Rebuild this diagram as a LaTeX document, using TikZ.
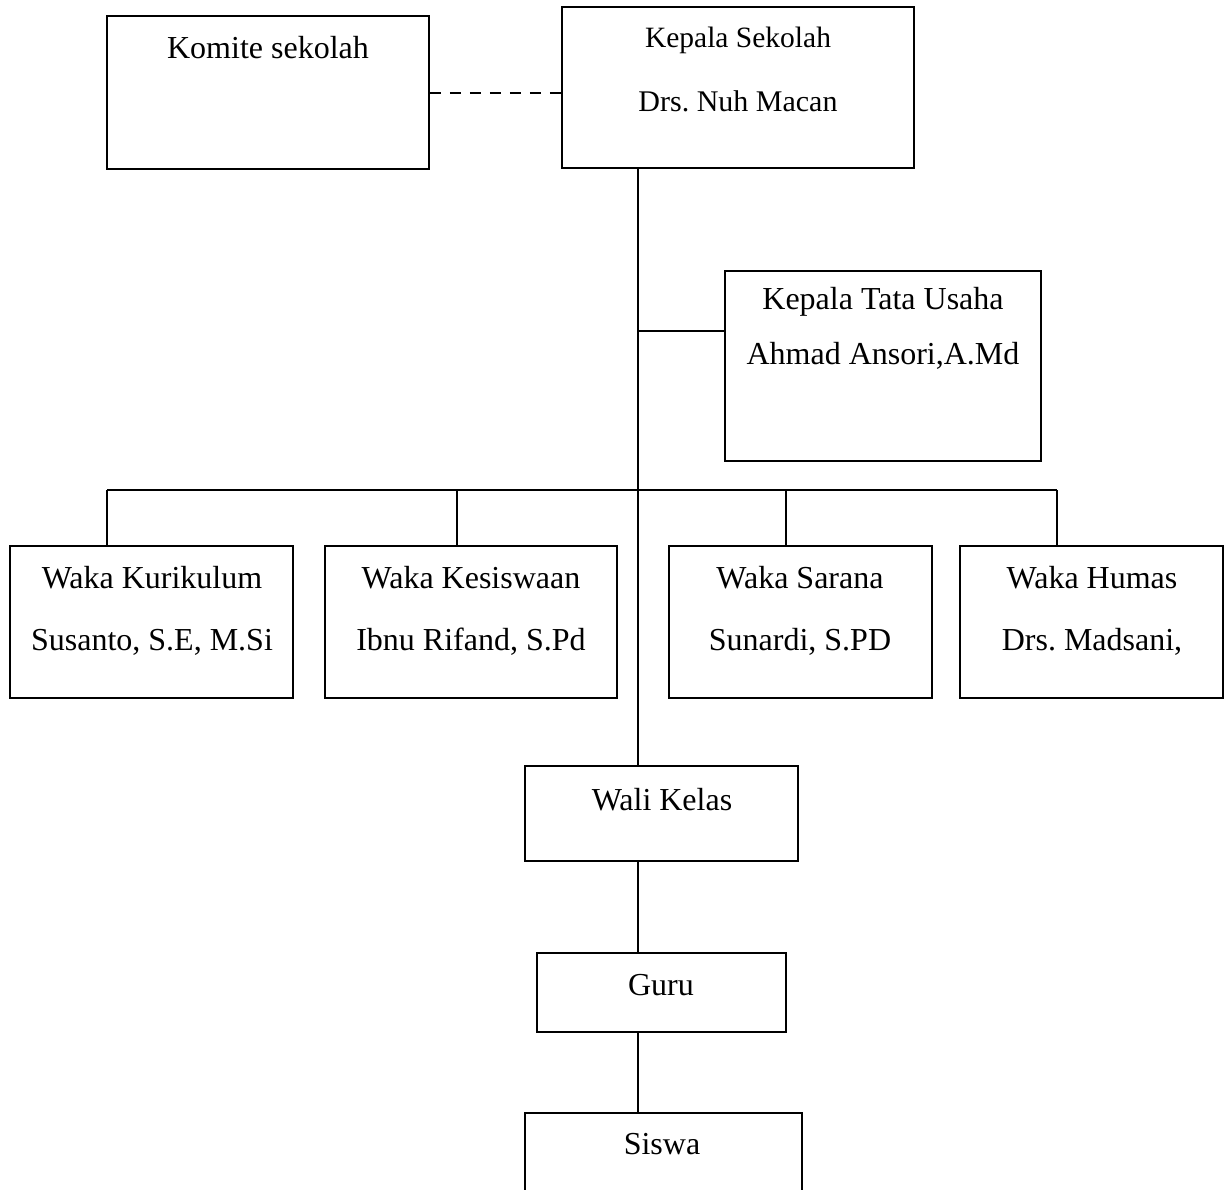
\documentclass[tikz,border=0pt]{standalone}
\usepackage{fontspec}
\setmainfont{Liberation Serif}
\frenchspacing
\begin{document}
\begin{tikzpicture}[x=1pt,y=-1pt,
  box/.style={draw,line width=1.5pt,rectangle,inner sep=0pt},
  lbl/.style={inner sep=0pt,font=\fontsize{32}{38}\selectfont},
  slbl/.style={inner sep=0pt,font=\fontsize{29.5}{35}\selectfont},
  mlbl/.style={inner sep=0pt,font=\fontsize{30}{36}\selectfont},
  conn/.style={line width=1.5pt}]
\clip (0,0) rectangle (1229,1189);
\fill[white] (0,0) rectangle (1229,1189);
% boxes
\node[box,minimum width=322,minimum height=153] (komite) at (268,92.5) {};
\node[box,minimum width=352,minimum height=161] (kepala) at (738,87.5) {};
\node[box,minimum width=316,minimum height=190] (ktu) at (883,366) {};
\node[box,minimum width=283,minimum height=152] (wk1) at (151.5,622) {};
\node[box,minimum width=292,minimum height=152] (wk2) at (471,622) {};
\node[box,minimum width=263,minimum height=152] (wk3) at (800.5,622) {};
\node[box,minimum width=263,minimum height=152] (wk4) at (1091.5,622) {};
\node[box,minimum width=273,minimum height=95] (wali) at (661.5,813.5) {};
\node[box,minimum width=249,minimum height=79] (guru) at (661.5,992.5) {};
\node[box,minimum width=277,minimum height=107] (siswa) at (663.5,1166.5) {};
% texts
\node[lbl] (tkomite) at (268,48) {Komite sekolah};
\node[slbl] (tkepala1) at (738,40) {Kepala Sekolah};
\node[mlbl] (tkepala2) at (738,101) {Drs. Nuh Macan};
\node[lbl] (tktu1) at (883,302) {Kepala Tata Usaha};
\node[lbl] (tktu2) at (883,356) {Ahmad Ansori,A.Md};
\node[lbl] (twk1a) at (152,578) {Waka Kurikulum};
\node[lbl] (twk1b) at (152,642) {Susanto, S.E, M.Si};
\node[lbl] (twk2a) at (471,578) {Waka Kesiswaan};
\node[lbl] (twk2b) at (471,642) {Ibnu Rifand, S.Pd};
\node[lbl] (twk3a) at (800,578) {Waka Sarana};
\node[lbl] (twk3b) at (800,642) {Sunardi, S.PD};
\node[lbl] (twk4a) at (1092,578) {Waka Humas};
\node[lbl] (twk4b) at (1092,642) {Drs. Madsani,};
\node[lbl] (twali) at (662,800) {Wali Kelas};
\node[lbl] (tguru) at (661,985) {Guru};
\node[lbl] (tsiswa) at (662,1144) {Siswa};
% connector coordinates
\coordinate (top) at (638,168);
\coordinate (tj) at (638,331);
\coordinate (busL) at (107,490);
\coordinate (busR) at (1057,490);
\coordinate (bot) at (638,767);
% connectors
\draw[conn,dash pattern=on 11pt off 9pt] (komite.east |- 0,93) -- (kepala.west |- 0,93);
\draw[conn] (top) -- (bot);
\draw[conn] (tj) -- (tj -| ktu.west);
\draw[conn] (busL) -- (busR);
\draw[conn] (busL) -- (busL |- wk1.north);
\draw[conn] (457,490) -- (457,546);
\draw[conn] (786,490) -- (786,546);
\draw[conn] (busR) -- (busR |- wk4.north);
\draw[conn] (wali.south -| bot) -- (guru.north -| bot);
\draw[conn] (guru.south -| bot) -- (siswa.north -| bot);
\end{tikzpicture}
\end{document}
